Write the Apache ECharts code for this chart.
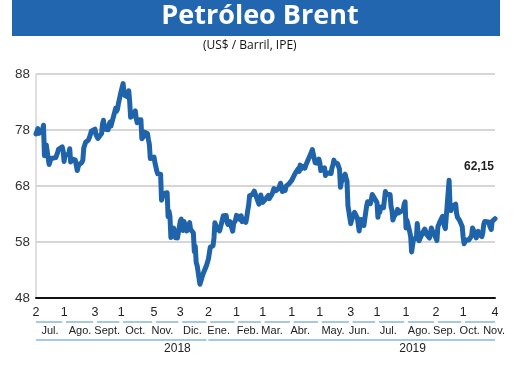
<!DOCTYPE html>
<html><head><meta charset="utf-8">
<script src="https://cdn.jsdelivr.net/npm/echarts@6/dist/echarts.min.js"></script>
<style>html,body{margin:0;padding:0;background:#fff}#c{width:520px;height:379px}</style>
</head><body><div id="c"></div>
<script>
// ---- data (Brent, US$/barril) ----
const dates2018 = [
'2018-07-02','2018-07-03','2018-07-04','2018-07-05','2018-07-06','2018-07-09','2018-07-10','2018-07-11','2018-07-12','2018-07-13','2018-07-16','2018-07-17','2018-07-18','2018-07-19','2018-07-20','2018-07-23','2018-07-24','2018-07-25','2018-07-26','2018-07-27','2018-07-30','2018-07-31',
'2018-08-01','2018-08-02','2018-08-03','2018-08-06','2018-08-07','2018-08-08','2018-08-09','2018-08-10','2018-08-13','2018-08-14','2018-08-15','2018-08-16','2018-08-17','2018-08-20','2018-08-21','2018-08-22','2018-08-23','2018-08-24','2018-08-27','2018-08-28','2018-08-29','2018-08-30','2018-08-31',
'2018-09-03','2018-09-04','2018-09-05','2018-09-06','2018-09-07','2018-09-10','2018-09-11','2018-09-12','2018-09-13','2018-09-14','2018-09-17','2018-09-18','2018-09-19','2018-09-20','2018-09-21','2018-09-24','2018-09-25','2018-09-26','2018-09-27','2018-09-28',
'2018-10-01','2018-10-02','2018-10-03','2018-10-04','2018-10-05','2018-10-08','2018-10-09','2018-10-10','2018-10-11','2018-10-12','2018-10-15','2018-10-16','2018-10-17','2018-10-18','2018-10-19','2018-10-22','2018-10-23','2018-10-24','2018-10-25','2018-10-26','2018-10-29','2018-10-30','2018-10-31',
'2018-11-01','2018-11-02','2018-11-05','2018-11-06','2018-11-07','2018-11-08','2018-11-09','2018-11-12','2018-11-13','2018-11-14','2018-11-15','2018-11-16','2018-11-19','2018-11-20','2018-11-21','2018-11-22','2018-11-23','2018-11-26','2018-11-27','2018-11-28','2018-11-29','2018-11-30',
'2018-12-03','2018-12-04','2018-12-05','2018-12-06','2018-12-07','2018-12-10','2018-12-11','2018-12-12','2018-12-13','2018-12-14','2018-12-17','2018-12-18','2018-12-19','2018-12-20','2018-12-21','2018-12-24','2018-12-27','2018-12-28','2018-12-31'];
const prices2018 = [
77.30,77.76,78.24,77.39,77.11,78.07,78.86,73.40,74.45,75.33,71.84,72.16,72.90,72.58,73.07,73.06,73.44,73.93,74.54,74.29,74.97,74.25,
72.39,73.45,73.21,73.75,74.65,72.28,72.07,72.81,72.61,72.46,70.76,71.43,71.83,72.21,72.63,74.78,74.73,75.82,76.21,76.31,77.14,77.77,77.42,
78.15,77.17,77.27,76.50,76.83,77.37,79.06,79.74,78.18,78.09,78.05,79.03,79.40,78.70,78.80,81.20,81.87,81.34,81.72,82.72,
84.98,84.80,86.29,84.58,84.16,83.91,85.00,83.09,80.26,80.43,80.78,81.41,80.05,79.29,79.78,79.83,76.44,76.17,76.89,77.62,77.34,76.31,75.47,
72.89,72.83,73.17,72.13,72.07,70.65,70.18,70.12,65.47,66.12,66.62,66.76,66.79,62.53,63.48,62.60,58.80,60.48,60.21,58.76,59.51,58.71,
61.69,62.08,61.56,60.06,61.67,59.97,60.20,60.15,61.45,60.28,59.61,56.26,57.24,54.35,53.82,50.47,52.16,52.20,53.80];
const dates2019 = [
'2019-01-02','2019-01-03','2019-01-04','2019-01-07','2019-01-08','2019-01-09','2019-01-10','2019-01-11','2019-01-14','2019-01-15','2019-01-16','2019-01-17','2019-01-18','2019-01-21','2019-01-22','2019-01-23','2019-01-24','2019-01-25','2019-01-28','2019-01-29','2019-01-30','2019-01-31',
'2019-02-01','2019-02-04','2019-02-05','2019-02-06','2019-02-07','2019-02-08','2019-02-11','2019-02-12','2019-02-13','2019-02-14','2019-02-15','2019-02-18','2019-02-19','2019-02-20','2019-02-21','2019-02-22','2019-02-25','2019-02-26','2019-02-27','2019-02-28',
'2019-03-01','2019-03-04','2019-03-05','2019-03-06','2019-03-07','2019-03-08','2019-03-11','2019-03-12','2019-03-13','2019-03-14','2019-03-15','2019-03-18','2019-03-19','2019-03-20','2019-03-21','2019-03-22','2019-03-25','2019-03-26','2019-03-27','2019-03-28','2019-03-29',
'2019-04-01','2019-04-02','2019-04-03','2019-04-04','2019-04-05','2019-04-08','2019-04-09','2019-04-10','2019-04-11','2019-04-12','2019-04-15','2019-04-16','2019-04-17','2019-04-18','2019-04-22','2019-04-23','2019-04-24','2019-04-25','2019-04-26','2019-04-29','2019-04-30',
'2019-05-01','2019-05-02','2019-05-03','2019-05-06','2019-05-07','2019-05-08','2019-05-09','2019-05-10','2019-05-13','2019-05-14','2019-05-15','2019-05-16','2019-05-17','2019-05-20','2019-05-21','2019-05-22','2019-05-23','2019-05-24','2019-05-28','2019-05-29','2019-05-30','2019-05-31',
'2019-06-03','2019-06-04','2019-06-05','2019-06-06','2019-06-07','2019-06-10','2019-06-11','2019-06-12','2019-06-13','2019-06-14','2019-06-17','2019-06-18','2019-06-19','2019-06-20','2019-06-21','2019-06-24','2019-06-25','2019-06-26','2019-06-27','2019-06-28',
'2019-07-01','2019-07-02','2019-07-03','2019-07-04','2019-07-05','2019-07-08','2019-07-09','2019-07-10','2019-07-11','2019-07-12','2019-07-15','2019-07-16','2019-07-17','2019-07-18','2019-07-19','2019-07-22','2019-07-23','2019-07-24','2019-07-25','2019-07-26','2019-07-29','2019-07-30','2019-07-31',
'2019-08-01','2019-08-02','2019-08-05','2019-08-06','2019-08-07','2019-08-08','2019-08-09','2019-08-12','2019-08-13','2019-08-14','2019-08-15','2019-08-16','2019-08-19','2019-08-20','2019-08-21','2019-08-22','2019-08-23','2019-08-26','2019-08-27','2019-08-28','2019-08-29','2019-08-30',
'2019-09-02','2019-09-03','2019-09-04','2019-09-05','2019-09-06','2019-09-09','2019-09-10','2019-09-11','2019-09-12','2019-09-13','2019-09-16','2019-09-17','2019-09-18','2019-09-19','2019-09-20','2019-09-23','2019-09-24','2019-09-25','2019-09-26','2019-09-27','2019-09-30',
'2019-10-01','2019-10-02','2019-10-03','2019-10-04','2019-10-07','2019-10-08','2019-10-09','2019-10-10','2019-10-11','2019-10-14','2019-10-15','2019-10-16','2019-10-17','2019-10-18','2019-10-21','2019-10-22','2019-10-23','2019-10-24','2019-10-25','2019-10-28','2019-10-29','2019-10-30','2019-10-31',
'2019-11-01','2019-11-04'];
const prices2019 = [
54.91,55.95,57.06,57.33,58.72,61.44,61.68,60.48,59.99,60.64,61.32,61.18,62.70,62.74,61.50,61.14,61.09,61.64,59.93,61.32,61.65,61.89,
62.75,62.51,61.98,62.69,61.63,62.10,61.51,62.42,63.61,64.57,66.25,66.50,66.45,67.08,67.07,67.12,64.76,65.21,66.39,66.31,
65.07,65.67,65.86,65.99,66.30,65.74,66.58,66.67,67.55,67.23,67.16,67.54,67.61,68.50,67.86,67.03,67.21,67.97,67.83,67.82,68.39,
69.01,69.37,69.31,69.40,70.34,71.10,70.61,71.73,71.02,71.55,71.18,71.72,71.62,71.97,74.04,74.51,74.57,74.35,72.15,72.04,72.80,
72.18,70.75,70.85,71.24,69.88,70.37,70.39,70.62,70.23,71.24,71.77,72.62,72.21,71.97,72.18,70.99,67.76,68.69,70.11,69.45,68.87,64.49,
61.28,61.97,62.00,61.67,63.29,62.29,62.29,59.97,61.31,62.01,60.94,62.14,61.82,64.45,65.20,64.86,65.05,66.49,66.55,66.55,
65.06,62.40,63.82,63.30,64.23,64.11,64.16,67.01,66.52,66.72,66.48,64.35,63.66,61.93,62.47,63.26,63.83,63.18,63.39,63.46,63.71,64.72,65.17,
60.50,61.89,59.81,58.94,56.23,57.38,58.53,58.57,61.30,59.48,58.23,58.64,59.74,60.03,60.30,59.92,59.34,58.70,59.51,60.49,60.08,60.43,
58.66,58.26,60.70,60.95,61.54,62.59,62.38,60.81,60.38,60.22,69.02,64.55,63.60,64.40,64.28,64.77,63.10,62.39,62.74,61.91,60.78,
58.89,57.69,57.71,58.37,58.35,58.24,58.32,59.10,60.51,59.35,58.74,59.42,59.91,59.42,58.96,59.70,61.17,61.67,62.02,61.57,61.59,60.61,60.23,
61.69,62.15];

// tick rows
const dayTickDates = ['2018-07-02','2018-08-01','2018-09-03','2018-10-01','2018-11-05','2018-12-03','2019-01-02','2019-02-01','2019-03-01','2019-04-01','2019-05-01','2019-06-03','2019-07-01','2019-08-01','2019-09-02','2019-10-01','2019-11-04'];
const monthNames = ['Jul.','Ago.','Sept.','Oct.','Nov.','Dic.','Ene.','Feb.','Mar.','Abr.','May.','Jun.','Jul.','Ago.','Sep.','Oct.','Nov.'];
const monthLabelDates = ['2018-07-17','2018-08-18','2018-09-16','2018-10-16','2018-11-14','2018-12-16','2019-01-13','2019-02-13','2019-03-11','2019-04-10','2019-05-15','2019-06-12','2019-07-13','2019-08-15','2019-09-11','2019-10-08','2019-11-03'];
const yearNames = ['2018','2019'];
const yearLabelDates = ['2018-11-30','2019-08-08'];
const yearSpans = [['2018-07-02','2018-12-31'],['2019-01-02','2019-11-04']];
const yTicks = [48,58,68,78,88];
const titleText = 'Petróleo Brent';
const subtitleText = '(US$ / Barril, IPE)';

// ---- build ----
function t(s){const p=s.split('-').map(Number);return new Date(p[0],p[1]-1,p[2]).getTime();}
const DAY = 86400000;
const xMin = t(dayTickDates[0]), xMax = t(dayTickDates[dayTickDates.length-1]);
const allDates = dates2018.concat(dates2019), allPrices = prices2018.concat(prices2019);
const lineData = allDates.map((d,i)=>[t(d), allPrices[i]]);

const lookup = (arr, names) => { const m = {}; arr.forEach((d,i)=>{m[t(d)] = names[i];}); return v => m[v] !== undefined ? m[v] : ''; };
const dayFmt = v => String(new Date(v).getDate());
const GAP = 2*DAY;
const underlineLines = [];
for (let i=0;i<dayTickDates.length-1;i++){
  const a = t(dayTickDates[i]) + (i===0?0:GAP);
  const b = t(dayTickDates[i+1]) - (i===dayTickDates.length-2?0:GAP);
  underlineLines.push([{coord:[a,1]},{coord:[b,1]}]);
}
yearSpans.forEach(s=>{ underlineLines.push([{coord:[t(s[0]),0]},{coord:[t(s[1]),0]}]); });

const font = 'Liberation Sans, Arial, sans-serif';
const hiddenAxisBits = {axisLine:{show:false}, axisTick:{show:false}, splitLine:{show:false}};
const labelAxis = (values, fmt, margin, size) => Object.assign({
  type:'value', gridIndex:0, position:'bottom', min:xMin, max:xMax,
  axisLabel:{customValues: values.map(t), formatter: fmt, margin: margin, fontFamily: font, fontSize: size, color:'#222', showMinLabel:true, showMaxLabel:true, hideOverlap:false}
}, hiddenAxisBits);

const chart = echarts.init(document.getElementById('c'), null, {renderer:'canvas'});
chart.setOption({
  animation:false,
  graphic:[
    {type:'rect', left:12, top:0, shape:{width:488, height:36}, style:{fill:'#2166ae'}, z:0},
    {type:'text', left:'center', top:3, style:{text:titleText, fill:'#fff', font:'bold 27px "Open Sans", sans-serif'}, z:1},
    {type:'text', left:203, top:40, style:{text:subtitleText, fill:'#111', font:'12px "Open Sans", sans-serif'}, z:1}
  ],
  grid:[
    {left:36, right:25, top:74, bottom:81},
    {left:36, right:25, top:318, height:25}
  ],
  xAxis:[
    {type:'time', gridIndex:0, min:xMin, max:xMax, axisLine:{show:true, lineStyle:{color:'#111', width:2}}, axisTick:{show:false}, axisLabel:{show:false}, splitLine:{show:false}},
    labelAxis(dayTickDates, dayFmt, 8, 12.5),
    labelAxis(monthLabelDates, lookup(monthLabelDates, monthNames), 27, 11),
    labelAxis(yearLabelDates, lookup(yearLabelDates, yearNames), 45, 12),
    {type:'time', gridIndex:1, min:xMin, max:xMax, show:false}
  ],
  yAxis:[
    {type:'value', gridIndex:0, min:yTicks[0], max:yTicks[yTicks.length-1], interval:10,
     axisLine:{show:true, lineStyle:{color:'#d6d6d6', width:1.5}}, axisTick:{show:false},
     axisLabel:{color:'#333', fontSize:13.5, fontFamily:font, margin:6},
     splitLine:{show:true, lineStyle:{color:'#d6d6d6', width:2}}},
    {type:'value', gridIndex:1, min:-0.2, max:1.2, show:false}
  ],
  series:[
    {type:'line', xAxisIndex:0, yAxisIndex:0, data:lineData, showSymbol:false, symbol:'none',
     lineStyle:{color:'#1f63ab', width:5, join:'round', cap:'round'}, z:5,
     endLabel:{show:true, formatter: p => p.value[1].toFixed(2).replace('.',','), align:'center', verticalAlign:'middle', distance:0, offset:[-16,-52],
       fontFamily:font, fontWeight:'bold', fontSize:12, color:'#222'}},
    {type:'line', xAxisIndex:4, yAxisIndex:1, data:[[xMin,0.5]], showSymbol:false, symbol:'none', silent:true, lineStyle:{opacity:0},
     markLine:{silent:true, symbol:['none','none'], label:{show:false}, lineStyle:{color:'#86b6de', width:1.5, type:'solid'}, data:underlineLines}}
  ]
});
</script></body></html>
